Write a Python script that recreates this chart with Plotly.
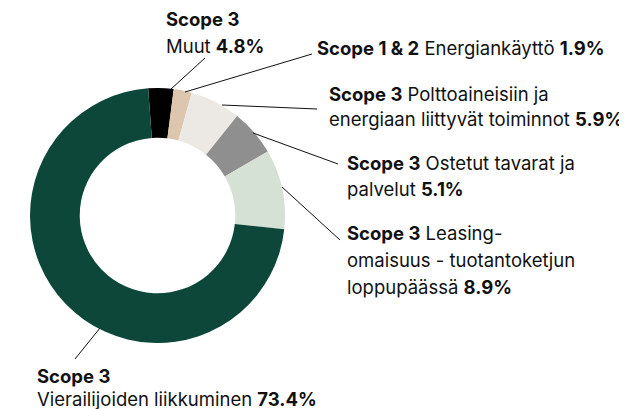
import plotly.graph_objects as go

# ---- data ----
categories = ["Muut", "Energiankäyttö", "Polttoaineisiin ja energiaan liittyvät toiminnot",
              "Ostetut tavarat ja palvelut", "Leasing-omaisuus", "Vierailijoiden liikkuminen"]
slice_share = [3.2, 2.3, 6.4, 5.9, 10.1, 72.1]   # drawn slice sizes (%)
label_pct = ["4.8%", "1.9%", "5.9%", "5.1%", "8.9%", "73.4%"]
colors = ["#000000", "#dcc6ae", "#ece8e4", "#8f8f8f", "#d6e1d6", "#0c4739"]

# label texts (line by line)
label_lines = [
    ["<b>Scope 3</b>", "Muut <b>{}</b>"],
    ["<b>Scope 1 & 2</b> Energiankäyttö <b>{}</b>"],
    ["<b>Scope 3</b> Polttoaineisiin ja", "energiaan liittyvät toiminnot <b>{}</b>"],
    ["<b>Scope 3</b> Ostetut tavarat ja", "palvelut <b>{}</b>"],
    ["<b>Scope 3</b> Leasing-", "omaisuus - tuotantoketjun", "loppupäässä <b>{}</b>"],
    ["<b>Scope 3</b>", "Vierailijoiden liikkuminen <b>{}</b>"],
]

W, H = 627, 409
OFF = 8  # page body margin
# layout positions in page pixels (left x, first line centre y, line step)
label_pos = [(164, 19, 27), (315, 48, 0), (327, 94, 25), (345, 163, 26), (345, 233, 27), (35, 376, 23)]
leaders = [((205, 58), (171, 89)), ((312, 54), (185, 92)), ((317, 109), (222, 105)),
           ((338, 164), (253, 133)), ((340, 240), (282, 187)), ((75, 359), (100, 328))]

cx, cy, r = 157.5 - OFF, 215.5 - OFF, 127.5


def px(x):
    return (x - OFF) / W


def py(y):
    return 1 - (y - OFF) / H


fig = go.Figure(go.Pie(
    labels=categories, values=slice_share, marker=dict(colors=colors, line=dict(width=0)),
    hole=0.61, sort=False, direction="clockwise", rotation=-4.2,
    textinfo="none", hoverinfo="skip",
    domain=dict(x=[(cx - r) / W, (cx + r) / W], y=[(H - cy - r) / H, (H - cy + r) / H]),
))

font = dict(family="Inter, Roboto, sans-serif", size=18.5, color="#111111")
for lines, pct, (x, y, step) in zip(label_lines, label_pct, label_pos):
    for i, ln in enumerate(lines):
        fig.add_annotation(x=px(x), y=py(y + i * step), xref="paper", yref="paper",
                           text=ln.format(pct), showarrow=False, xanchor="left", yanchor="middle",
                           font=font)

for (x0, y0), (x1, y1) in leaders:
    fig.add_shape(type="line", xref="paper", yref="paper",
                  x0=px(x0), y0=py(y0), x1=px(x1), y1=py(y1),
                  line=dict(color="#111111", width=1))

fig.update_layout(width=W, height=H, margin=dict(l=0, r=0, t=0, b=0),
                  paper_bgcolor="white", plot_bgcolor="white", showlegend=False)
fig.write_html("out.html")
